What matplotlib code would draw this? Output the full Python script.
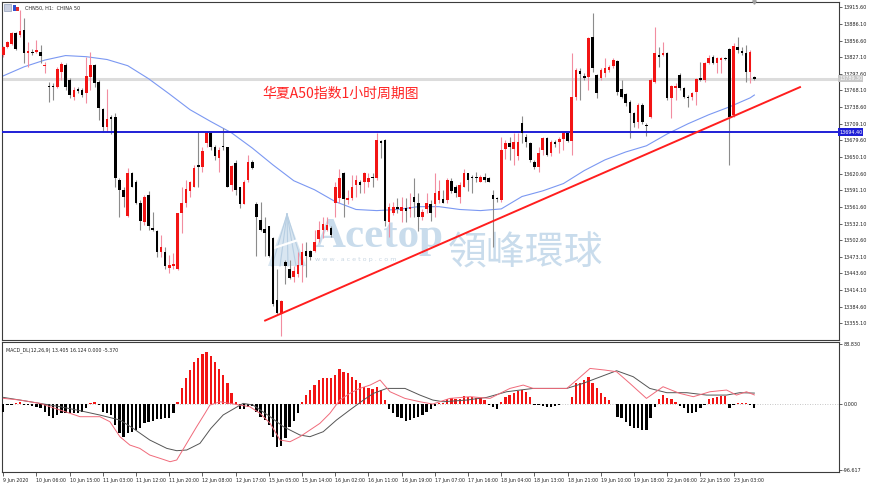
import numpy as np
import matplotlib.pyplot as plt
from matplotlib.patches import Rectangle, Polygon

# ---- CHN50 H1 candles (bar 0 = 9 Jun 2020) ----
opens = [13831, 13845, 13851, 13870, 13867, 13875, 13835, 13836, 13836, 13836,
         13812, 13776, 13776, 13775, 13801, 13814, 13787, 13757, 13771, 13769,
         13764, 13792, 13814, 13783, 13735, 13704, 13721, 13721, 13610, 13592,
         13546, 13622, 13606, 13569, 13534, 13583, 13525, 13518, 13481, 13482,
         13454, 13456, 13452, 13551, 13569, 13589, 13597, 13636, 13633, 13675,
         13693, 13668, 13649, 13670, 13667, 13601, 13640, 13596, 13567, 13610,
         13642, 13566, 13539, 13523, 13527, 13507, 13397, 13371, 13463, 13451,
         13438, 13442, 13459, 13484, 13484, 13484, 13504, 13521, 13521, 13525,
         13569, 13578, 13622, 13574, 13578, 13601, 13606, 13606, 13605, 13615,
         13613, 13679, 13681, 13534, 13551, 13562, 13555, 13560, 13557, 13580,
         13569, 13544, 13557, 13566, 13566, 13574, 13576, 13574, 13608, 13596,
         13580, 13597, 13621, 13615, 13615, 13605, 13615, 13612, 13583, 13578,
         13574, 13665, 13675, 13665, 13651, 13711, 13686, 13675, 13642, 13633,
         13663, 13684, 13658, 13675, 13677, 13682, 13693, 13679, 13757, 13803,
         13794, 13792, 13863, 13796, 13790, 13799, 13805, 13812, 13820, 13771,
         13762, 13748, 13728, 13713, 13743, 13707, 13721, 13783, 13831, 13831,
         13835, 13755, 13773, 13796, 13773, 13757, 13757, 13766, 13790, 13787,
         13817, 13828, 13817, 13822, 13826, 13842, 13725, 13845, 13838, 13835,
         13801, 13792]
highs = [13847, 13856, 13872, 13872, 13911, 13897, 13854, 13842, 13858, 13849,
         13819, 13783, 13782, 13810, 13819, 13817, 13790, 13775, 13775, 13773,
         13828, 13836, 13815, 13787, 13737, 13771, 13725, 13728, 13613, 13597,
         13631, 13624, 13610, 13574, 13583, 13589, 13553, 13521, 13512, 13490,
         13477, 13479, 13551, 13597, 13610, 13608, 13636, 13695, 13668, 13695,
         13695, 13672, 13668, 13702, 13668, 13636, 13645, 13597, 13610, 13654,
         13645, 13571, 13571, 13544, 13528, 13509, 13451, 13397, 13468, 13468,
         13456, 13481, 13498, 13500, 13486, 13521, 13536, 13544, 13544, 13528,
         13606, 13628, 13624, 13592, 13619, 13619, 13610, 13624, 13622, 13622,
         13693, 13681, 13682, 13569, 13571, 13578, 13580, 13578, 13587, 13613,
         13587, 13557, 13587, 13574, 13622, 13610, 13592, 13613, 13613, 13601,
         13606, 13628, 13622, 13619, 13624, 13619, 13622, 13615, 13592, 13580,
         13686, 13681, 13686, 13693, 13693, 13723, 13690, 13677, 13645, 13668,
         13686, 13686, 13681, 13681, 13686, 13695, 13695, 13835, 13808, 13808,
         13799, 13863, 13905, 13797, 13808, 13826, 13814, 13826, 13822, 13787,
         13764, 13751, 13730, 13746, 13746, 13711, 13790, 13881, 13845, 13854,
         13836, 13778, 13782, 13799, 13775, 13760, 13766, 13790, 13819, 13819,
         13831, 13831, 13828, 13828, 13828, 13844, 13852, 13863, 13845, 13849,
         13840, 13794]
lows = [13828, 13844, 13849, 13840, 13863, 13817, 13810, 13831, 13835, 13817,
        13799, 13748, 13751, 13773, 13787, 13769, 13755, 13751, 13764, 13757,
        13746, 13769, 13775, 13716, 13695, 13695, 13690, 13597, 13544, 13562,
        13544, 13596, 13566, 13521, 13530, 13521, 13518, 13472, 13472, 13451,
        13445, 13451, 13449, 13516, 13562, 13580, 13596, 13597, 13624, 13668,
        13663, 13645, 13624, 13663, 13596, 13589, 13583, 13560, 13566, 13606,
        13628, 13474, 13518, 13474, 13472, 13385, 13371, 13332, 13424, 13433,
        13428, 13438, 13428, 13438, 13468, 13481, 13500, 13507, 13518, 13509,
        13544, 13569, 13543, 13567, 13574, 13580, 13587, 13587, 13597, 13596,
        13610, 13649, 13527, 13509, 13548, 13551, 13534, 13534, 13544, 13544,
        13518, 13539, 13551, 13536, 13544, 13569, 13569, 13569, 13587, 13580,
        13569, 13596, 13589, 13587, 13605, 13605, 13605, 13605, 13490, 13571,
        13571, 13647, 13645, 13636, 13645, 13675, 13668, 13642, 13628, 13624,
        13654, 13651, 13652, 13668, 13658, 13663, 13677, 13654, 13751, 13751,
        13787, 13769, 13801, 13755, 13787, 13792, 13801, 13808, 13760, 13755,
        13741, 13684, 13704, 13702, 13709, 13688, 13720, 13782, 13810, 13829,
        13751, 13720, 13751, 13769, 13755, 13739, 13751, 13743, 13785, 13783,
        13815, 13815, 13799, 13799, 13822, 13636, 13721, 13835, 13831, 13783,
        13782, 13787]
closes = [13845, 13854, 13870, 13842, 13874, 13835, 13838, 13835, 13840, 13829,
          13814, 13775, 13775, 13806, 13815, 13775, 13760, 13769, 13767, 13760,
          13794, 13814, 13782, 13737, 13704, 13718, 13718, 13613, 13592, 13580,
          13622, 13597, 13569, 13536, 13580, 13527, 13520, 13482, 13491, 13456,
          13458, 13461, 13550, 13569, 13594, 13605, 13631, 13633, 13661, 13693,
          13667, 13651, 13663, 13667, 13597, 13635, 13592, 13566, 13606, 13642,
          13631, 13543, 13520, 13516, 13474, 13389, 13374, 13394, 13456, 13436,
          13447, 13459, 13482, 13475, 13472, 13500, 13521, 13532, 13530, 13512,
          13596, 13613, 13576, 13578, 13597, 13610, 13601, 13622, 13613, 13613,
          13681, 13675, 13536, 13562, 13562, 13557, 13562, 13555, 13562, 13571,
          13544, 13553, 13569, 13551, 13587, 13590, 13569, 13610, 13589, 13587,
          13601, 13622, 13610, 13612, 13613, 13615, 13610, 13605, 13576, 13576,
          13663, 13675, 13667, 13677, 13677, 13693, 13677, 13645, 13633, 13658,
          13684, 13654, 13677, 13674, 13682, 13693, 13679, 13757, 13805, 13798,
          13790, 13861, 13808, 13764, 13805, 13808, 13810, 13822, 13766, 13757,
          13746, 13728, 13711, 13743, 13713, 13705, 13787, 13835, 13828, 13835,
          13755, 13776, 13776, 13773, 13757, 13755, 13764, 13789, 13787, 13817,
          13826, 13817, 13826, 13826, 13824, 13721, 13847, 13840, 13835, 13801,
          13836, 13789]

# blue moving average (sampled along the curve)
ma_idx = [0, 5, 10, 15, 20, 25, 30, 35, 40, 45, 50, 55, 60, 65, 70, 75, 80, 85, 90,
          95, 100, 105, 110, 115, 120, 125, 130, 135, 140, 145, 150, 155, 160, 165,
          170, 175, 180, 181]
ma_vals = [13794, 13810, 13822, 13830, 13828, 13823, 13812, 13789, 13762, 13734,
           13713, 13693, 13666, 13636, 13608, 13592, 13571, 13557, 13555, 13557,
           13562, 13562, 13557, 13555, 13558, 13580, 13590, 13603, 13626, 13645,
           13659, 13670, 13691, 13709, 13725, 13739, 13755, 13760]

hline_level = 13694.40
last_price = 13789.30
trend_idx = [63.1, 192.0]
trend_vals = [13360.0, 13774.0]

price_ticks = [13355.10, 13384.60, 13414.10, 13443.60, 13473.10, 13502.60, 13532.10,
               13561.60, 13591.10, 13620.60, 13650.10, 13679.60, 13709.10, 13738.60,
               13768.10, 13797.60, 13827.10, 13856.60, 13886.10, 13915.60]

# ---- MACD_DL(12,26,9) ----
macd_hist = [-11.3, -1.0, -1.0, 1.0, 3.4, -1.5, -1.5, -2.9, -4.9, -6.4,
             -11.3, -17.6, -21.1, -16.2, -13.7, -13.7, -13.7, -13.7, -12.7, -11.3,
             -6.4, 2.0, 3.4, -1.5, -11.3, -13.7, -16.2, -30.9, -43.1, -48.0,
             -43.1, -40.7, -38.2, -35.8, -28.4, -26.0, -24.5, -22.5, -22.5, -21.1,
             -21.1, -13.7, 3.4, 23.0, 37.7, 50.0, 62.2, 67.1, 73.5, 76.9,
             70.6, 62.2, 51.0, 42.6, 30.4, 16.7, 3.4, -7.8, -7.8, -4.9,
             -2.9, -11.3, -18.6, -23.5, -30.9, -48.0, -62.7, -61.7, -50.5, -33.3,
             -24.5, -13.7, 3.4, 13.2, 20.6, 27.9, 35.3, 37.7, 37.7, 37.7,
             42.6, 51.0, 47.5, 45.1, 40.2, 35.3, 30.4, 25.5, 23.0, 21.6,
             25.5, 20.6, 5.9, -7.8, -13.7, -18.6, -21.1, -24.5, -23.5, -21.1,
             -18.6, -16.2, -11.3, -7.8, -2.9, 2.0, 2.0, 6.9, 8.3, 6.9,
             6.9, 11.8, 10.8, 10.8, 8.3, 8.3, 5.9, -1.5, -3.9, -7.8,
             3.4, 10.8, 13.2, 16.7, 19.6, 20.6, 18.1, 9.8, -1.0, -2.0,
             -2.9, -3.9, -3.9, -2.9, -1.5, -0.5, -0.5, 10.8, 30.4, 31.4,
             35.3, 40.2, 30.4, 23.0, 15.7, 9.8, 5.9, -0.5, -18.6, -21.1,
             -26.0, -32.3, -35.8, -35.8, -38.2, -38.2, -21.1, -4.9, 6.9, 13.2,
             8.3, 6.9, 3.4, -2.9, -6.4, -12.7, -13.7, -11.3, -6.4, -1.0,
             6.9, 8.3, 9.8, 11.8, 11.8, -6.4, -1.5, 2.0, 2.0, 1.0,
             -1.5, -5.37]
dif_idx = [0, 4.0, 8.8, 13.7, 18.5, 23.3, 25.7, 28.1, 30.5, 32.9, 35.3, 37.8, 40.2,
           41.8, 44.2, 46.6, 48.6, 49.8, 52.2, 54.6, 57.0, 59.4, 61.9, 64.3, 66.7,
           69.1, 71.5, 73.9, 76.3, 78.7, 81.1, 83.5, 85.9, 88.4, 90.8, 93.2, 96.8,
           100.4, 103.5, 107.6, 112.5, 117.3, 119.7, 122.1, 125.3, 127.7, 131.7,
           135.8, 138.2, 141.4, 145.0, 147.8, 151.0, 155.0, 159.0, 163.0, 166.3,
           170.3, 174.3, 176.7, 179.1, 181.0]
dif_vals = [8.4, 5.9, 1.0, -8.8, -18.6, -18.6, -26.0, -48.0, -60.3, -65.2, -75.0, -79.9,
            -84.8, -82.3, -57.8, -33.3, -13.7, -1.5, 3.4, 1.0, -1.5, -3.9, -13.7, -28.4,
            -52.9, -55.4, -48.0, -38.2, -28.4, -13.7, 5.9, 15.7, 23.0, 27.9, 35.3, 18.1,
            8.3, 3.4, 0.0, 8.3, 10.8, 8.3, 15.7, 23.0, 27.9, 23.0, 23.0, 23.0, 35.3,
            52.4, 50.0, 47.5, 30.4, 8.3, 25.5, 15.7, 10.8, 18.1, 20.6, 13.2, 18.1, 13.405]
dea_idx = [0, 4.0, 8.8, 13.7, 18.5, 23.3, 28.1, 31.3, 35.3, 39.4, 41.8, 44.2, 47.4,
           50.0, 53.0, 57.8, 60.2, 64.3, 67.5, 71.5, 73.9, 77.1, 80.3, 83.5, 86.8,
           89.2, 92.4, 96.8, 100.4, 103.5, 106.0, 111.7, 116.5, 121.3, 127.7, 135.8,
           139.7, 145.0, 147.8, 151.8, 155.8, 159.9, 164.7, 169.5, 174.3, 177.5, 181.0]
dea_vals = [9.8, 5.9, 1.0, -3.9, -9.8, -16.2, -23.5, -35.8, -52.9, -65.2, -68.6, -67.6,
            -57.8, -36.0, -16.0, 1.0, -1.5, -18.6, -33.3, -45.6, -48.0, -40.7, -23.5,
            -8.8, 5.9, 15.7, 23.0, 23.0, 13.2, 5.9, 3.4, 5.9, 9.8, 18.1, 23.0, 23.0,
            30.4, 42.6, 49.0, 40.2, 23.0, 16.7, 16.7, 13.2, 13.2, 16.7, 16.124]

time_idx = list(range(0, 177, 8))
time_labels = ["9 Jun 2020", "10 Jun 06:00", "10 Jun 15:00", "11 Jun 03:00", "11 Jun 12:00",
               "11 Jun 20:00", "12 Jun 08:00", "12 Jun 17:00", "15 Jun 05:00", "15 Jun 14:00",
               "16 Jun 02:00", "16 Jun 11:00", "16 Jun 19:00", "17 Jun 07:00", "17 Jun 16:00",
               "18 Jun 04:00", "18 Jun 13:00", "18 Jun 21:00", "19 Jun 10:00", "19 Jun 18:00",
               "22 Jun 06:00", "22 Jun 15:00", "23 Jun 03:00"]

W, H = 870, 484


def px_box(left, top, right, bottom):
    return [left / W, 1 - bottom / H, (right - left) / W, (bottom - top) / H]


plt.rcParams['font.family'] = ['DejaVu Sans']
fig = plt.figure(figsize=(W / 100, H / 100), dpi=100)
ax = fig.add_axes(px_box(2, 2, 839, 340))
ax2 = fig.add_axes(px_box(2, 341.5, 839, 471.7), sharex=ax)

o = np.array(opens, float)
h = np.array(highs, float)
l = np.array(lows, float)
c = np.array(closes, float)
idx = np.arange(len(c))
up = c >= o

# --- watermark (behind everything) ---
wm = '#c9dcec'
ax.text(0.374, 0.275, 'Acetop', transform=ax.transAxes, fontsize=31, color=wm,
        family=['Liberation Serif'], weight='bold', zorder=0, va='baseline')
ax.text(0.532, 0.222, '領峰環球', transform=ax.transAxes, fontsize=28, color=wm,
        family=['Noto Sans CJK TC', 'DejaVu Sans'], zorder=0, va='baseline')
ax.text(0.374, 0.245, 'w w w . a c e t o p . c o m', transform=ax.transAxes, fontsize=4.6,
        color='#c8d6e2', zorder=0, va='top')
ax.add_patch(Polygon([(287 / W, 1 - 214 / H), (268 / W, 1 - 266 / H), (306 / W, 1 - 266 / H)],
                     closed=True, transform=fig.transFigure, fc='#d9e6f1', ec='none', zorder=0))
for xb in [272, 280, 288, 296, 303]:
    ax.plot([287 / W, xb / W], [1 - 214 / H, 1 - 266 / H], transform=fig.transFigure,
            color='#b7cee2', lw=0.8, zorder=0)
ax.plot([268 / W, 310 / W], [1 - 250 / H, 1 - 236 / H], transform=fig.transFigure,
        color='white', lw=1.6, zorder=0)

# --- reference lines ---
ax.axhline(last_price, color='#dcdcdc', lw=2.2, zorder=1)
ax.axhline(hline_level, color='#1f1fd6', lw=1.4, zorder=4)
ax.plot(ma_idx, ma_vals, color='#7b98f2', lw=0.8, zorder=2)

# --- candles ---
wick_cols = np.where(up, '#f28da0', '#8c8c8c')
body_cols = np.where(up, '#f21414', '#000000')
ax.vlines(idx, l, h, colors=wick_cols, lw=0.8, zorder=3)
body_low = np.minimum(o, c)
body_h = np.maximum(np.abs(c - o), 1.8)
ax.bar(idx, body_h, bottom=body_low, width=0.62, color=body_cols, lw=0, zorder=4)

ax.plot(trend_idx, trend_vals, color='#ff1e1e', lw=1.4, zorder=5)

ax.set_xlim(-0.31, 201.4)
ax.set_ylim(13325.5, 13925.0)

ax.yaxis.tick_right()
ax.set_yticks(price_ticks)
ax.set_yticklabels([f'{v:.2f}' for v in price_ticks])
ax.tick_params(axis='y', length=2, width=0.5, labelsize=3.5, pad=1, colors='#222222')
ax.tick_params(axis='x', bottom=False, labelbottom=False)
for sp in ax.spines.values():
    sp.set_linewidth(0.8)
    sp.set_color('#3c3c3c')

# price tags on the right scale
ax.text(1.0, hline_level, f'{hline_level:.2f}', transform=ax.get_yaxis_transform(),
        fontsize=3.5, color='white', va='center', ha='left', clip_on=False, zorder=6,
        bbox=dict(boxstyle='square,pad=0.25', fc='#1f1fd6', ec='none'))
ax.text(1.0, last_price, f'{last_price:.2f}', transform=ax.get_yaxis_transform(),
        fontsize=3.5, color='white', va='center', ha='left', clip_on=False, zorder=6,
        bbox=dict(boxstyle='square,pad=0.25', fc='#c8c8c8', ec='none'))
ax.plot([idx[-1]], [ax.get_ylim()[1]], marker='v', color='#a0a0a0', ms=2.5,
        clip_on=False, zorder=6)

# headline text
ax.text(0.311, 0.727, '华夏A50指数1小时周期图', transform=ax.transAxes, fontsize=10,
        color='#ff2424', va='center', family=['Noto Sans CJK SC', 'DejaVu Sans'], zorder=6)
fig.text(25 / W, 1 - 8 / H, 'CHN50, H1:  CHINA 50', fontsize=3.5, va='center', color='#222222')
fig.patches.append(Rectangle((4 / W, 1 - 11 / H), 7 / W, 7 / H, transform=fig.transFigure,
                             fc='#c9cfe0', ec='#8090b0', lw=0.4))
fig.patches.append(Rectangle((13 / W, 1 - 11 / H), 3 / W, 6 / H, transform=fig.transFigure,
                             fc='#3050d0', ec='none'))
fig.patches.append(Rectangle((16.5 / W, 1 - 11 / H), 3 / W, 4 / H, transform=fig.transFigure,
                             fc='#e03030', ec='none'))

# --- MACD panel ---
hist = np.array(macd_hist)
ax2.bar(idx, hist, width=0.55, color=np.where(hist >= 0, '#f21414', '#000000'), lw=0, zorder=3)
ax2.plot(dea_idx, dea_vals, color='#555555', lw=0.7, zorder=4)
ax2.plot(dif_idx, dif_vals, color='#f06a7a', lw=0.7, zorder=4)
ax2.axhline(0, color='#b4b4b4', lw=0.6, ls=(0, (1, 2)), zorder=1)
ax2.set_ylim(-99.5, 92.0)
ax2.yaxis.tick_right()
ax2.set_yticks([88.83, 0.0, -96.617])
ax2.set_yticklabels(['88.830', '0.000', '-96.617'])
ax2.tick_params(axis='y', length=2, width=0.5, labelsize=3.5, pad=1, colors='#222222')
ax2.set_xticks(time_idx)
ax2.set_xticklabels(time_labels)
ax2.tick_params(axis='x', length=3, width=0.5, labelsize=3.4, pad=1.5, colors='#222222')
for lbl in ax2.get_xticklabels():
    lbl.set_horizontalalignment('left')
for sp in ax2.spines.values():
    sp.set_linewidth(0.8)
    sp.set_color('#3c3c3c')
ax2.text(4 / 837, 0.955, 'MACD_DL(12,26,9) 13.405 16.124 0.000 -5.370', transform=ax2.transAxes,
         fontsize=3.4, va='top', color='#222222')

fig.savefig('out.png', dpi=100)
